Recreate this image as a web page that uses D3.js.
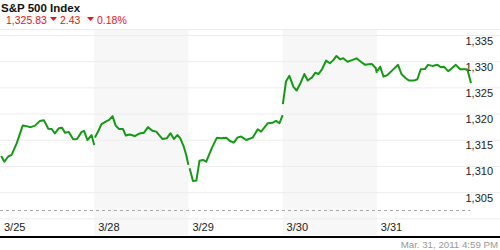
<!DOCTYPE html>
<html>
<head>
<meta charset="utf-8">
<script src="https://cdn.jsdelivr.net/npm/d3@7"></script>
<style>
  body { margin: 0; background: #fff; }
  svg { display: block; font-family: Arial, "Liberation Sans", sans-serif; }
</style>
</head>
<body>
<div id="chart"></div>
<script>
// trading days shown on the chart
var days = ["3/25", "3/28", "3/29", "3/30", "3/31"];
var yTicks = [1300, 1305, 1310, 1315, 1320, 1325, 1330, 1335];
var refLevel = 1301.6;

// minutes after the open (9:30) and index level, one list per day
var day1Min = [5, 18, 34, 48, 69, 94, 110, 127, 145, 165, 182, 200, 214, 227, 244, 257, 269, 285, 303, 319, 338, 348, 362, 379, 390];
var day1Val = [1311.9, 1310.8, 1311.8, 1312.1, 1314.3, 1317.7, 1317.6, 1317.4, 1317.7, 1318.6, 1318.7, 1317.1, 1317.05, 1316.2, 1317.2, 1317.3, 1316.35, 1316.5, 1315.1, 1315.15, 1316.5, 1316.7, 1314.95, 1315.9, 1314.0];

var day2Min = [3, 19, 30, 48, 62, 76, 89, 103, 119, 131, 147, 168, 188, 206, 223, 241, 257, 282, 301, 316, 330, 344, 356, 370, 381, 390];
var day2Val = [1315.4, 1316.85, 1318.0, 1318.45, 1318.8, 1319.5, 1317.7, 1317.05, 1317.05, 1315.8, 1316.0, 1315.7, 1316.2, 1316.35, 1317.4, 1316.7, 1316.55, 1315.15, 1315.3, 1316.25, 1315.15, 1315.9, 1315.3, 1313.8, 1312.1, 1310.2];

var day3Min = [5, 19, 33, 46, 60, 74, 95, 118, 136, 157, 170, 188, 204, 219, 239, 266, 287, 301, 329, 349, 363, 377, 390];
var day3Val = [1309.55, 1307.1, 1307.2, 1311.0, 1311.15, 1310.8, 1313.2, 1315.4, 1315.3, 1315.4, 1314.8, 1314.45, 1315.45, 1315.6, 1314.95, 1315.4, 1317.0, 1316.55, 1318.15, 1318.25, 1318.6, 1318.15, 1319.7];

var day4Min = [1, 14, 28, 45, 58, 74, 90, 104, 122, 135, 149, 163, 180, 196, 210, 223, 238, 251, 269, 287, 306, 324, 342, 356, 370, 386, 390];
var day4Val = [1321.8, 1326.1, 1327.2, 1325.1, 1324.4, 1325.8, 1327.55, 1326.3, 1326.9, 1327.8, 1327.55, 1328.45, 1330.1, 1329.6, 1330.2, 1331.0, 1330.35, 1330.55, 1329.9, 1330.2, 1330.55, 1329.9, 1329.3, 1329.4, 1329.45, 1328.65, 1327.75];

var day5Min = [2, 14, 28, 44, 65, 88, 102, 120, 134, 154, 168, 182, 199, 212, 230, 251, 265, 278, 295, 306, 327, 345, 368, 375, 390];
var day5Val = [1328.1, 1328.95, 1327.05, 1327.35, 1328.3, 1329.3, 1327.55, 1326.75, 1326.3, 1326.3, 1326.55, 1328.45, 1328.5, 1329.3, 1329.1, 1329.3, 1328.85, 1328.95, 1328.1, 1328.45, 1329.3, 1328.45, 1328.45, 1328.4, 1325.83];

var dayMins = [day1Min, day2Min, day3Min, day4Min, day5Min];
var dayVals = [day1Val, day2Val, day3Val, day4Val, day5Val];
var sessionLen = 390;

var width = 500, height = 250;
var plotTop = 29, plotBottom = 235;

var svg = d3.select("#chart")
    .append("svg")
    .attr("width", width)
    .attr("height", height);

var x = d3.scaleLinear()
    .domain([0, days.length * sessionLen])
    .range([0, 471]);

var y = d3.scaleLinear()
    .domain([1300, 1335])
    .range([218.3, 35]);

// shaded bands on every other day
svg.selectAll(".band")
    .data(days)
    .enter()
    .append("rect")
    .attr("class", "band")
    .attr("x", function(d, i) { return x(i * sessionLen); })
    .attr("y", plotTop)
    .attr("width", x(sessionLen) - x(0))
    .attr("height", plotBottom - plotTop)
    .attr("fill", function(d, i) { return i % 2 ? "#f7f7f7" : "none"; });

// header separator
svg.append("line")
    .attr("x1", 0).attr("x2", width)
    .attr("y1", plotTop + 0.5).attr("y2", plotTop + 0.5)
    .attr("stroke", "#ececec");

// y gridlines + labels
var yAxis = d3.axisRight(y)
    .tickValues(yTicks)
    .tickSize(width)
    .tickFormat(function(d) { return d === 1300 ? "" : d3.format(",")(d); });

var gy = svg.append("g").call(yAxis);
gy.select(".domain").remove();
gy.selectAll(".tick line").attr("stroke", "#ededed");
gy.selectAll(".tick text")
    .attr("x", 493)
    .attr("dy", 9)
    .attr("text-anchor", "end")
    .attr("fill", "#222")
    .style("font-size", "11px");

// dashed reference line
svg.append("line")
    .attr("x1", 0).attr("x2", 470)
    .attr("y1", Math.round(y(refLevel)) + 0.5).attr("y2", Math.round(y(refLevel)) + 0.5)
    .attr("stroke", "#aaa")
    .attr("stroke-dasharray", "3,3");

// day labels
svg.selectAll(".dayLabel")
    .data(days)
    .enter()
    .append("text")
    .attr("class", "dayLabel")
    .attr("x", function(d, i) { return x(i * sessionLen) + 4; })
    .attr("y", 231)
    .attr("fill", "#222")
    .style("font-size", "11px")
    .text(function(d) { return d; });

// bottom rule
svg.append("line")
    .attr("x1", 0).attr("x2", width)
    .attr("y1", 237).attr("y2", 237)
    .attr("stroke", "#000")
    .attr("stroke-width", 2);

// price line, one segment per day
var line = d3.line()
    .x(function(d) { return x(d.t); })
    .y(function(d) { return y(d.v); });

dayMins.forEach(function(mins, i) {
    var pts = mins.map(function(m, j) { return { t: i * sessionLen + m, v: dayVals[i][j] }; });
    svg.append("path")
        .datum(pts)
        .attr("d", line)
        .attr("fill", "none")
        .attr("stroke", "#139b13")
        .attr("stroke-width", 2)
        .attr("stroke-linejoin", "round");
});

// title block
svg.append("text")
    .attr("x", 1).attr("y", 12)
    .style("font-size", "11.5px")
    .style("font-weight", "bold")
    .attr("fill", "#111")
    .text("S&P 500 Index");

var red = "#ee1111";
var head = svg.append("g").attr("fill", red).style("font-size", "10.5px");
head.append("text").attr("x", 6).attr("y", 24).text("1,325.83");
head.append("path").attr("d", "M50,17L57,17L53.5,21Z");
head.append("text").attr("x", 60).attr("y", 24).text("2.43");
head.append("path").attr("d", "M87,17L94,17L90.5,21Z");
head.append("text").attr("x", 97).attr("y", 24).text("0.18%");

// timestamp
svg.append("text")
    .attr("x", 498).attr("y", 248)
    .attr("text-anchor", "end")
    .attr("fill", "#999")
    .style("font-size", "9.7px")
    .text("Mar. 31, 2011 4:59 PM");
</script>
</body>
</html>
